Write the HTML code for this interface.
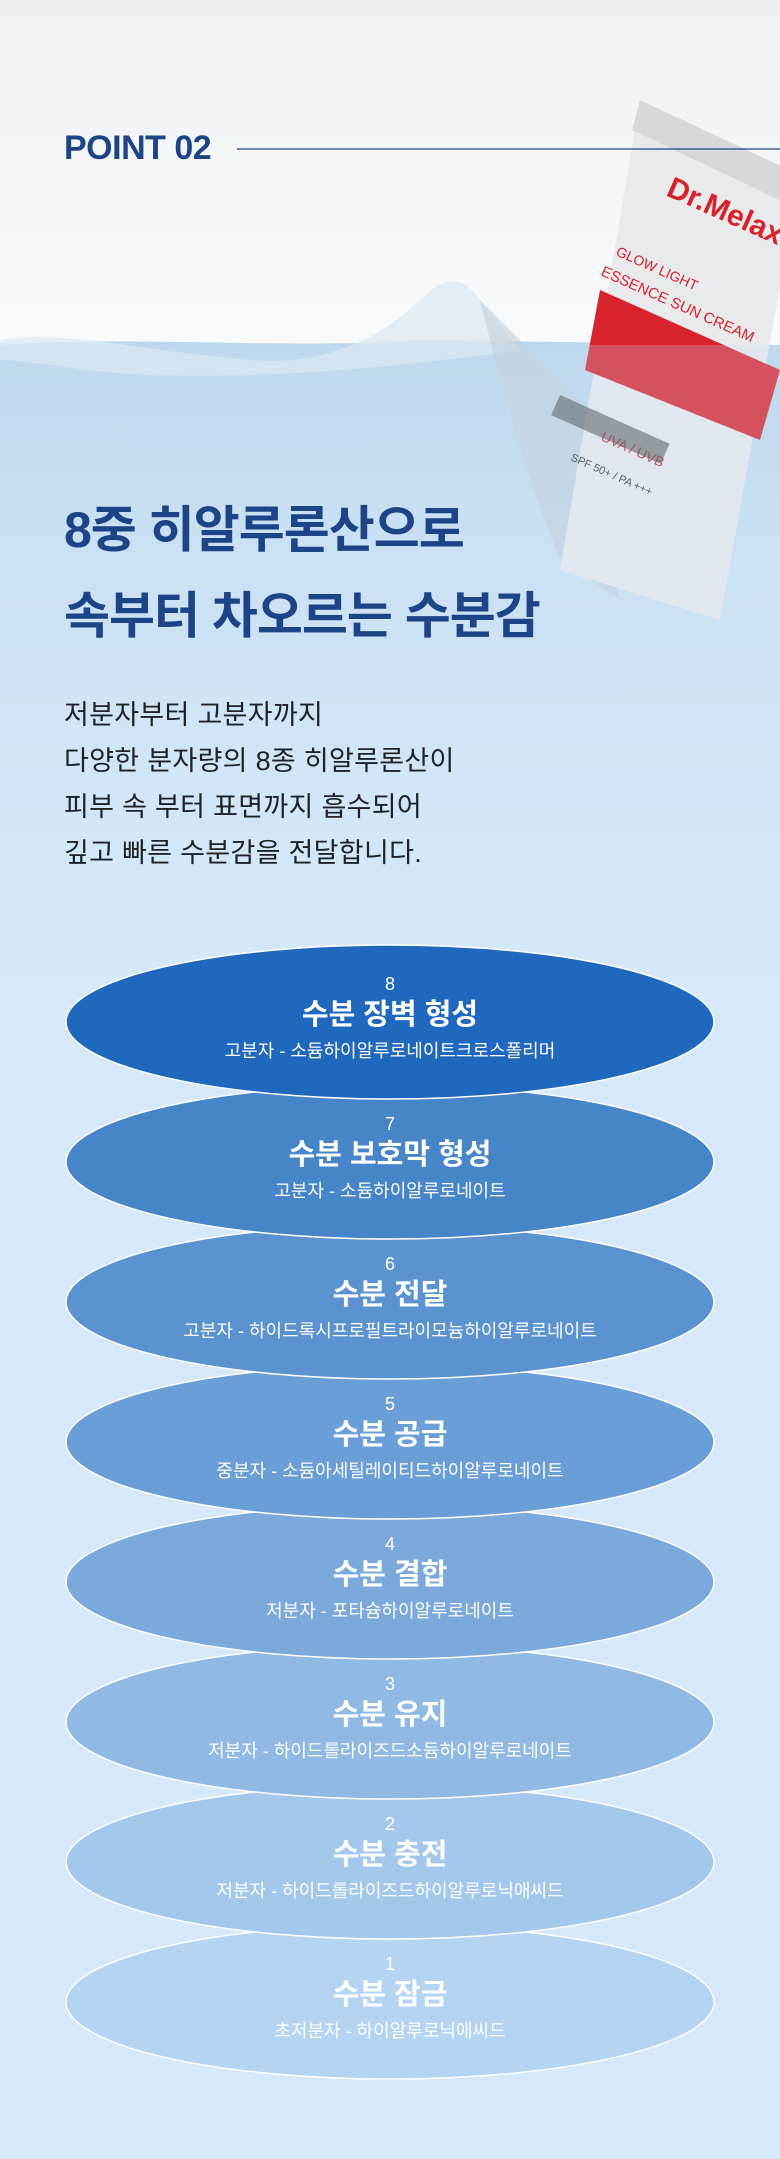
<!DOCTYPE html>
<html><head><meta charset="utf-8"><style>
html,body{margin:0;padding:0;}
body{width:780px;height:2159px;position:relative;overflow:hidden;background:#d5e9fa;font-family:"Liberation Sans","Noto Sans CJK KR",sans-serif;}
.abs{position:absolute;}
</style></head><body>
<svg class="abs" style="left:0;top:0" width="780" height="2159" viewBox="0 0 780 2159">
<defs>
<linearGradient id="sky" x1="0" y1="0" x2="0" y2="1">
<stop offset="0" stop-color="#eef1f4"/><stop offset="1" stop-color="#fafbfc"/></linearGradient>
<linearGradient id="water" x1="0" y1="0" x2="0" y2="1">
<stop offset="0" stop-color="#bcd6ec"/><stop offset="0.35" stop-color="#cde3f5"/><stop offset="1" stop-color="#d5e9fa"/></linearGradient>
</defs>
<rect x="0" y="0" width="780" height="360" fill="url(#sky)"/>
<path d="M0 345 C150 335 280 350 420 340 L780 345 L780 1000 L0 1000 Z" fill="url(#water)"/>
<path d="M0 340 C60 330 140 350 250 360 C330 368 390 330 420 300 C440 280 460 270 480 300 L520 350 C450 360 300 380 150 375 C80 372 30 360 0 360 Z" fill="#dfeaf3" opacity="0.8"/>
<path d="M480 300 C500 380 520 460 560 560 L620 600 L580 400 Z" fill="#c3cfd9" opacity="0.6"/>
<g>
<polygon points="640,100 800,175 720,620 560,570" fill="#e8eaec"/>
<polygon points="640,100 800,175 790,205 632,130" fill="#d6d8da"/>
<polygon points="600,290 780,370 760,440 585,370" fill="#d8222c"/>
<text x="0" y="0" transform="translate(665,195) rotate(24)" font-size="30" font-weight="bold" fill="#d8222c">Dr.Melaxin</text>
<text x="0" y="0" transform="translate(615,255) rotate(24)" font-size="14" fill="#d8222c">GLOW LIGHT</text>
<text x="0" y="0" transform="translate(600,275) rotate(24)" font-size="15" fill="#d8222c">ESSENCE SUN CREAM</text>
<text x="0" y="0" transform="translate(600,440) rotate(24)" font-size="14" fill="#d8222c">UVA / UVB</text>
<text x="0" y="0" transform="translate(570,460) rotate(24)" font-size="11" fill="#333">SPF 50+ / PA +++</text>
<rect x="0" y="0" width="120" height="22" transform="translate(560,395) rotate(24)" fill="#333" opacity="0.55"/>
</g>
<rect x="0" y="345" width="780" height="300" fill="#c9dff2" opacity="0.25"/>
<line x1="237" y1="149" x2="780" y2="149" stroke="#1e4488" stroke-width="1.2"/>
<g stroke="#ffffff" stroke-width="1.5">
<ellipse cx="390" cy="2002" rx="324" ry="77" fill="#b4d4f1"/>
<ellipse cx="390" cy="1862" rx="324" ry="77" fill="#a4c8ec"/>
<ellipse cx="390" cy="1722" rx="324" ry="77" fill="#90b9e4"/>
<ellipse cx="390" cy="1582" rx="324" ry="77" fill="#7ba9dc"/>
<ellipse cx="390" cy="1442" rx="324" ry="77" fill="#6a9ed6"/>
<ellipse cx="390" cy="1302" rx="324" ry="77" fill="#5a93d0"/>
<ellipse cx="390" cy="1162" rx="324" ry="77" fill="#4585c8"/>
<ellipse cx="390" cy="1022" rx="324" ry="77" fill="#2068bd"/>
</g>
<g fill="#ffffff" text-anchor="middle" font-family="Liberation Sans, Noto Sans CJK KR, sans-serif">
<text x="390" y="990" font-size="18">8</text><text x="390" y="1024" font-size="29" font-weight="bold">수분 장벽 형성</text><text x="390" y="1057" font-size="18">고분자 - 소듐하이알루로네이트크로스폴리머</text>
<text x="390" y="1130" font-size="18">7</text><text x="390" y="1164" font-size="29" font-weight="bold">수분 보호막 형성</text><text x="390" y="1197" font-size="18">고분자 - 소듐하이알루로네이트</text>
<text x="390" y="1270" font-size="18">6</text><text x="390" y="1304" font-size="29" font-weight="bold">수분 전달</text><text x="390" y="1337" font-size="18">고분자 - 하이드록시프로필트라이모늄하이알루로네이트</text>
<text x="390" y="1410" font-size="18">5</text><text x="390" y="1444" font-size="29" font-weight="bold">수분 공급</text><text x="390" y="1477" font-size="18">중분자 - 소듐아세틸레이티드하이알루로네이트</text>
<text x="390" y="1550" font-size="18">4</text><text x="390" y="1584" font-size="29" font-weight="bold">수분 결합</text><text x="390" y="1617" font-size="18">저분자 - 포타슘하이알루로네이트</text>
<text x="390" y="1690" font-size="18">3</text><text x="390" y="1724" font-size="29" font-weight="bold">수분 유지</text><text x="390" y="1757" font-size="18">저분자 - 하이드롤라이즈드소듐하이알루로네이트</text>
<text x="390" y="1830" font-size="18">2</text><text x="390" y="1864" font-size="29" font-weight="bold">수분 충전</text><text x="390" y="1897" font-size="18">저분자 - 하이드롤라이즈드하이알루로닉애씨드</text>
<text x="390" y="1970" font-size="18">1</text><text x="390" y="2004" font-size="29" font-weight="bold">수분 잠금</text><text x="390" y="2037" font-size="18">초저분자 - 하이알루로닉애씨드</text>
</g>
</svg>
<div class="abs" style="left:64px;top:128px;font-size:34px;font-weight:bold;color:#1e4488;letter-spacing:-0.5px;line-height:40px;">POINT 02</div>
<div class="abs" style="left:64px;top:487px;font-size:50px;font-weight:bold;color:#1e4488;line-height:86px;letter-spacing:-1px;">8중 히알루론산으로<br>속부터 차오르는 수분감</div>
<div class="abs" style="left:64px;top:692px;font-size:27px;color:#222;line-height:46px;letter-spacing:0.3px;">저분자부터 고분자까지<br>다양한 분자량의 8종 히알루론산이<br>피부 속 부터 표면까지 흡수되어<br>깊고 빠른 수분감을 전달합니다.</div>
</body></html>
